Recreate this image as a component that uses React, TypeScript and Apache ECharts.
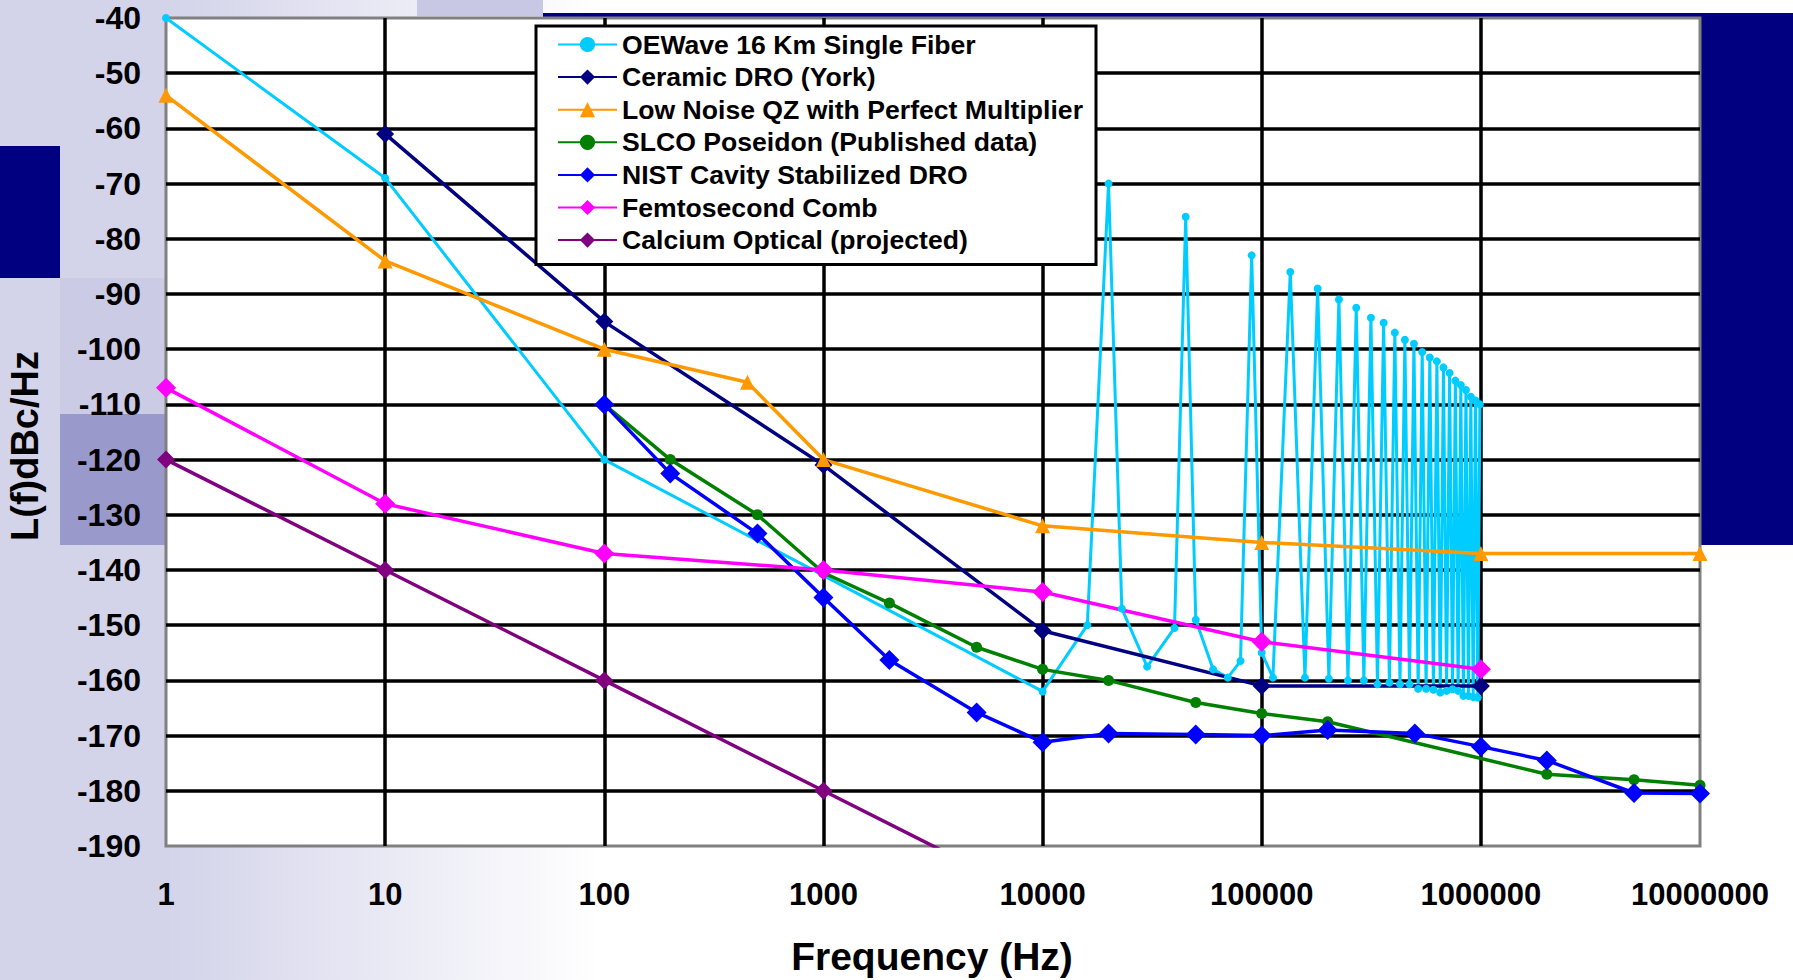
import React, { useEffect, useRef } from "react";
import * as echarts from "echarts";

const FONT = '"Liberation Sans", Arial, Helvetica, sans-serif';

const xTickLabels = ["1", "10", "100", "1000", "10000", "100000", "1000000", "10000000"];
const yMin = -190;
const yMax = -40;
const yStep = 10;

const xTitle = "Frequency (Hz)";
const yTitle = "L(f)dBc/Hz";

const seriesNames = [
  "OEWave 16 Km Single Fiber",
  "Ceramic DRO (York)",
  "Low Noise QZ with Perfect Multiplier",
  "SLCO Poseidon (Published data)",
  "NIST Cavity Stabilized DRO",
  "Femtosecond Comb",
  "Calcium Optical (projected)",
];

const oeWaveFreq = [
  1, 10, 100, 10000, 16000, 20000, 23000, 30000, 40000, 45000, 50000, 60000, 70000, 80000,
  90000, 100000, 112500, 135000, 157500, 180000, 202500, 225000, 247500, 270000, 292500,
  315000, 337500, 360000, 382500, 405000, 427500, 450000, 472500, 495000, 517500, 540000,
  562500, 585000, 607500, 630000, 652500, 675000, 697500, 720000, 742500, 765000, 787500,
  810000, 832500, 855000, 877500, 900000, 922500, 945000, 967500, 990000,
];
const oeWaveNoise = [
  -40, -69, -120, -162, -150, -70, -147, -157.5, -150.5, -76, -149, -158, -159.5, -156.5,
  -83, -155, -159.5, -86, -159.5, -89, -159.7, -91, -160, -92.5, -160,
  -94.3, -160.7, -95.2, -160.4, -97, -160.7, -98.3, -160.7, -99, -161.5, -100.5,
  -161.5, -101.5, -161.7, -102.2, -162.2, -103.3, -161.9, -104.3, -161.6, -105.7, -161.9,
  -106.5, -162.8, -107.4, -162.8, -108.6, -163, -109.3, -163.1, -110,
];

const ceramicFreq = [10, 100, 1000, 10000, 100000, 1000000];
const ceramicNoise = [-61, -95, -121, -151, -161, -161];

const qzFreq = [1, 10, 100, 450, 1000, 10000, 100000, 1000000, 10000000];
const qzNoise = [-54, -84, -100, -106, -120, -132, -135, -137, -137];

const slcoFreq = [100, 200, 500, 1000, 2000, 5000, 10000, 20000, 50000, 100000, 200000, 2000000, 5000000, 10000000];
const slcoNoise = [-110, -120, -130, -140.5, -146, -154, -158, -160, -164, -166, -167.5, -177, -178, -179];

const nistFreq = [100, 200, 500, 1000, 2000, 5000, 10000, 20000, 50000, 100000, 200000, 500000, 1000000, 2000000, 5000000, 10000000];
const nistNoise = [-110, -122.5, -133.4, -145, -156.3, -165.8, -171.2, -169.6, -169.8, -170, -169, -169.6, -172, -174.5, -180.4, -180.5];

const combFreq = [1, 10, 100, 1000, 10000, 100000, 1000000];
const combNoise = [-107, -128, -137, -140, -144, -153, -158];

const calciumFreq = [1, 10, 100, 1000, 10000];
const calciumNoise = [-120, -140, -160, -180, -200];

const pairs = (xs: number[], ys: number[]) => xs.map((x, i) => [x, ys[i]]);

export default function App() {
  const ref = useRef<HTMLDivElement>(null);

  useEffect(() => {
    if (!ref.current) return;
    const chart = echarts.init(ref.current, undefined, { renderer: "svg" });

    const lineSeries = (
      name: string,
      data: number[][],
      color: string,
      symbol: string,
      symbolSize: number,
      width = 3.5
    ) => ({
      name,
      type: "line",
      data,
      symbol,
      symbolSize,
      showSymbol: true,
      clip: true,
      lineStyle: { color, width },
      itemStyle: { color, borderWidth: 0 },
      emphasis: { disabled: true },
    });

    const option: any = {
      animation: false,
      backgroundColor: "transparent",
      textStyle: { fontFamily: FONT },
      graphic: [
        { type: "rect", z: -1, silent: true, shape: { x: 0, y: 146, width: 60, height: 132 }, style: { fill: "#000080" } },
        { type: "rect", z: -1, silent: true, shape: { x: 60, y: 278, width: 106, height: 136 }, style: { fill: "#cbcbe5" } },
        { type: "rect", z: -1, silent: true, shape: { x: 60, y: 414, width: 106, height: 131 }, style: { fill: "#9999cc" } },
        { type: "rect", z: -1, silent: true, shape: { x: 417, y: 0, width: 126, height: 16 }, style: { fill: "#c8c8e4" } },
        { type: "rect", z: -1, silent: true, shape: { x: 543, y: 13, width: 1250, height: 6 }, style: { fill: "#000080" } },
        { type: "rect", z: -1, silent: true, shape: { x: 1700, y: 13, width: 93, height: 532 }, style: { fill: "#000080" } },
        {
          type: "text",
          x: 25,
          y: 446,
          rotation: Math.PI / 2,
          silent: true,
          style: {
            text: yTitle,
            font: `bold 38px ${FONT}`,
            fill: "#000",
            align: "center",
            verticalAlign: "middle",
          },
        },
        {
          type: "text",
          x: 932,
          y: 956,
          silent: true,
          style: {
            text: xTitle,
            font: `bold 39px ${FONT}`,
            fill: "#000",
            align: "center",
            verticalAlign: "middle",
          },
        },
      ],
      grid: {
        left: 166,
        right: 93,
        top: 18,
        bottom: 134,
        show: true,
        backgroundColor: "#ffffff",
        borderColor: "#808080",
        borderWidth: 3,
        containLabel: false,
      },
      legend: {
        orient: "vertical",
        left: 536,
        top: 26,
        padding: [5, 13, 11, 21],
        itemGap: 5.6,
        itemWidth: 59,
        itemHeight: 19,
        backgroundColor: "#ffffff",
        borderColor: "#000000",
        borderWidth: 3,
        borderRadius: 0,
        selectedMode: false,
        data: seriesNames,
        textStyle: {
          fontSize: 26.6,
          fontWeight: "bold",
          color: "#000",
          lineHeight: 26,
          fontFamily: FONT,
        },
      },
      xAxis: {
        type: "log",
        logBase: 10,
        min: 1,
        max: 10000000,
        axisLine: { show: false },
        axisTick: { show: false },
        axisLabel: {
          formatter: (v: number) => xTickLabels[Math.round(Math.log10(v))],
          fontSize: 31,
          fontWeight: "bold",
          color: "#000",
          margin: 33,
          fontFamily: FONT,
        },
        splitLine: {
          show: true,
          showMinLine: false,
          showMaxLine: false,
          lineStyle: { color: "#000", width: 3.5 },
        },
        minorTick: { show: false },
        minorSplitLine: { show: false },
      },
      yAxis: {
        type: "value",
        min: yMin,
        max: yMax,
        interval: yStep,
        axisLine: { show: false },
        axisTick: { show: false },
        axisLabel: {
          fontSize: 32,
          fontWeight: "bold",
          color: "#000",
          margin: 25,
          fontFamily: FONT,
        },
        splitLine: {
          show: true,
          showMinLine: false,
          showMaxLine: false,
          lineStyle: { color: "#000", width: 3.5 },
        },
      },
      series: [
        lineSeries(seriesNames[0], pairs(oeWaveFreq, oeWaveNoise), "#00ccff", "circle", 8, 3),
        lineSeries(seriesNames[1], pairs(ceramicFreq, ceramicNoise), "#000080", "diamond", 18),
        lineSeries(seriesNames[2], pairs(qzFreq, qzNoise), "#ff9900", "triangle", 15),
        lineSeries(seriesNames[3], pairs(slcoFreq, slcoNoise), "#008000", "circle", 11),
        lineSeries(seriesNames[4], pairs(nistFreq, nistNoise), "#0000ff", "diamond", 20),
        lineSeries(seriesNames[5], pairs(combFreq, combNoise), "#ff00ff", "diamond", 20),
        lineSeries(seriesNames[6], pairs(calciumFreq, calciumNoise), "#800080", "diamond", 18),
      ],
    };

    chart.setOption(option);
    return () => {
      chart.dispose();
    };
  }, []);

  return (
    <div
      style={{
        position: "fixed",
        left: 0,
        top: 0,
        width: 1793,
        height: 980,
        background: "linear-gradient(to right, #d3d3ea 0px, #d3d3ea 165px, #ffffff 600px)",
      }}
    >
      <div ref={ref} style={{ width: 1793, height: 980 }} />
    </div>
  );
}
